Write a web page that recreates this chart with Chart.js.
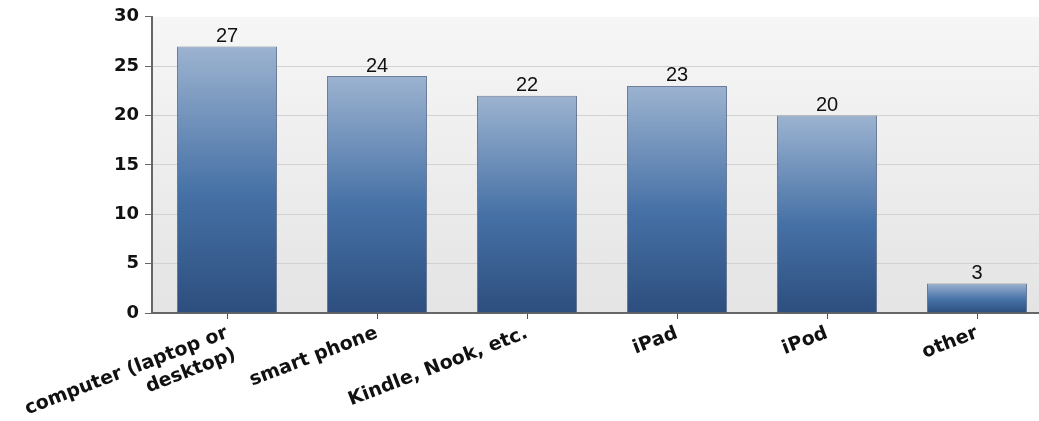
<!DOCTYPE html>
<html>
<head>
<meta charset="utf-8">
<script src="https://cdn.jsdelivr.net/npm/chart.js@4.4.1/dist/chart.umd.min.js"></script>
<style>
  html, body { margin: 0; padding: 0; background: #fff; overflow: hidden; }
  #wrap { position: absolute; left: 0; top: 0; width: 1054px; height: 421px; }
</style>
</head>
<body>
<div id="wrap"><canvas id="myChart"></canvas></div>
<script>
// Dados do gráfico
const categorias = [['computer (laptop or', 'desktop)'], 'smart phone', 'Kindle, Nook, etc.', 'iPad', 'iPod', 'other'];
const valores = [27, 24, 22, 23, 20, 3];
const yTicks = [0, 5, 10, 15, 20, 25, 30];

// Gradiente de cada barra, do topo até a base
function barGradient(context) {
    const chart = context.chart;
    const { ctx, chartArea, scales } = chart;
    if (!chartArea || !scales.y) return '#4a72a8';
    const top = scales.y.getPixelForValue(context.raw);
    const base = scales.y.getPixelForValue(0);
    const g = ctx.createLinearGradient(0, top, 0, base);
    g.addColorStop(0, '#9cb3d0');
    g.addColorStop(0.55, '#4671a6');
    g.addColorStop(1, '#2d4e7e');
    return g;
}

// Fundo da área do gráfico
const plotBackground = {
    id: 'plotBackground',
    beforeDraw(chart) {
        const { ctx, chartArea } = chart;
        const g = ctx.createLinearGradient(0, chartArea.top, 0, chartArea.bottom);
        g.addColorStop(0, '#f6f6f6');
        g.addColorStop(1, '#e4e4e4');
        ctx.save();
        ctx.fillStyle = g;
        ctx.fillRect(chartArea.left, chartArea.top, chartArea.right - chartArea.left, chartArea.bottom - chartArea.top);
        ctx.restore();
    }
};

// Valores acima das barras
const valueLabels = {
    id: 'valueLabels',
    afterDatasetsDraw(chart) {
        const { ctx } = chart;
        const meta = chart.getDatasetMeta(0);
        ctx.save();
        ctx.font = '20px "Liberation Sans", Arial, sans-serif';
        ctx.fillStyle = '#111';
        ctx.textAlign = 'center';
        ctx.textBaseline = 'bottom';
        meta.data.forEach((bar, i) => {
            ctx.fillText(String(valores[i]), bar.x, bar.y);
        });
        ctx.restore();
    }
};

const ctx = document.getElementById('myChart').getContext('2d');
new Chart(ctx, {
    type: 'bar',
    data: {
        labels: categorias,
        datasets: [{
            data: valores,
            backgroundColor: barGradient,
            borderColor: 'rgba(50, 75, 115, 0.7)',
            borderWidth: 1,
            categoryPercentage: 0.667,
            barPercentage: 1
        }]
    },
    options: {
        responsive: true,
        maintainAspectRatio: false,
        animation: false,
        layout: { padding: { top: 15, right: 2, left: 0, bottom: 0 } },
        plugins: {
            legend: { display: false },
            tooltip: { enabled: false }
        },
        scales: {
            x: {
                grid: {
                    offset: false,
                    drawOnChartArea: false,
                    color: '#555',
                    tickLength: 6
                },
                border: { color: '#666', width: 2 },
                ticks: {
                    color: '#111',
                    font: { family: '"DejaVu Sans", sans-serif', size: 19, weight: 'bold' },
                    minRotation: 21,
                    maxRotation: 21,
                    padding: 3
                },
                afterFit(scale) { scale.height = 108; }
            },
            y: {
                min: 0,
                max: 30,
                afterBuildTicks(scale) { scale.ticks = yTicks.map(v => ({ value: v })); },
                grid: {
                    color: (c) => (c.tick && c.tick.value === 30 ? 'rgba(0,0,0,0)' : '#d2d2d2'),
                    tickLength: 7,
                    tickColor: '#666'
                },
                border: { color: '#666', width: 2 },
                ticks: {
                    color: '#111',
                    font: { family: '"DejaVu Sans", sans-serif', size: 18, weight: 'bold' },
                    padding: 6
                },
                afterFit(scale) { scale.width = 152; }
            }
        }
    },
    plugins: [plotBackground, valueLabels]
});
</script>
</body>
</html>
